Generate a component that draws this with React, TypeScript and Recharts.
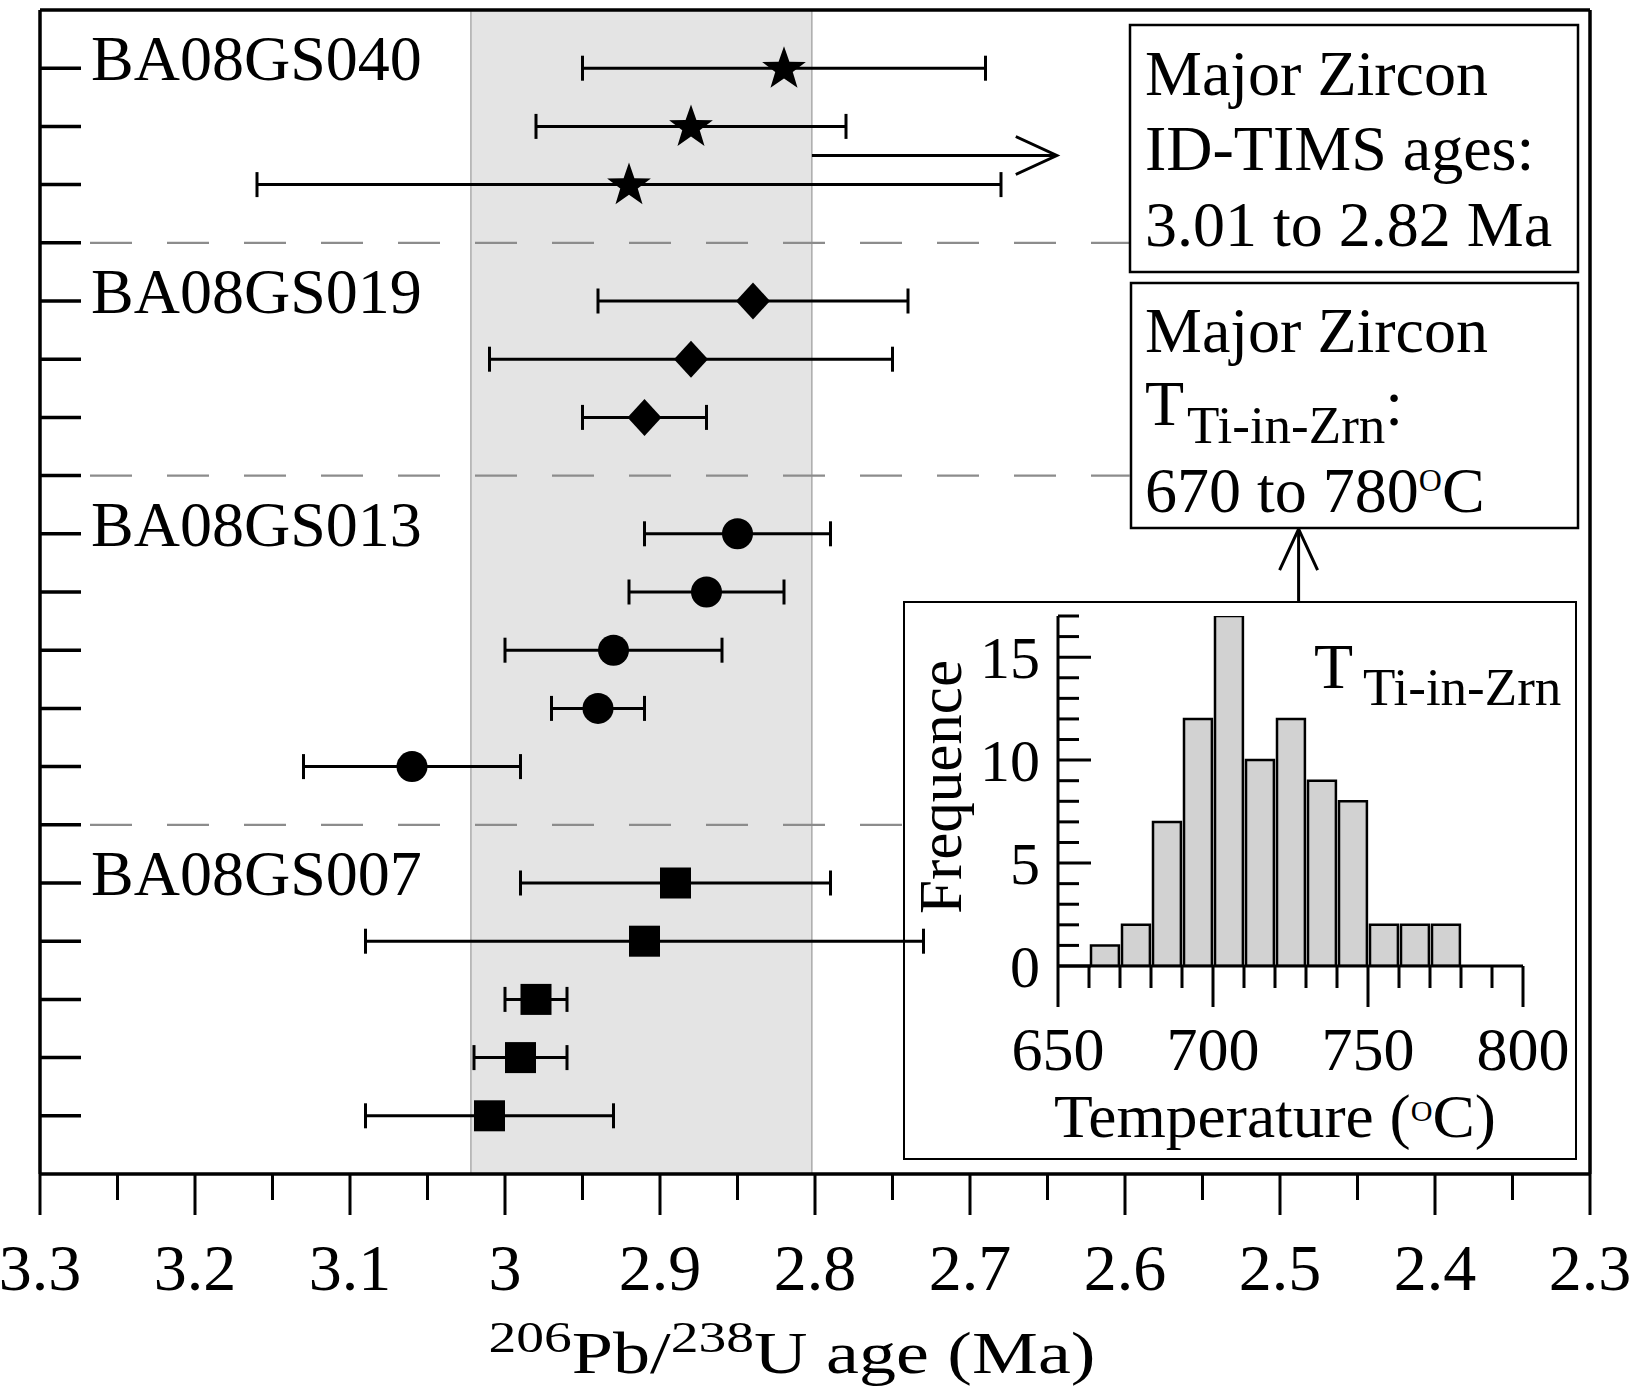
import React from 'react';
import {
  ComposedChart,
  Scatter,
  ErrorBar,
  XAxis,
  YAxis,
  ReferenceLine,
  ReferenceArea,
  BarChart,
  Bar,
} from 'recharts';

const FONT = '"Liberation Serif","Times New Roman",Times,serif';

// ---------- main chart data ----------
const groupNames = ['BA08GS040', 'BA08GS019', 'BA08GS013', 'BA08GS007'];
const groupLabelRows = [19, 15, 11, 5];
const separatorRows = [16, 12, 6];
const separatorEndAges = [2.597, 2.597, 2.743];

const starRows = [19, 18, 17];
const starAges = [2.82, 2.88, 2.92];
const starOlder = [2.95, 2.98, 3.16];
const starYounger = [2.69, 2.78, 2.68];

const diamondRows = [15, 14, 13];
const diamondAges = [2.84, 2.88, 2.91];
const diamondOlder = [2.94, 3.01, 2.95];
const diamondYounger = [2.74, 2.75, 2.87];

const circleRows = [11, 10, 9, 8, 7];
const circleAges = [2.85, 2.87, 2.93, 2.94, 3.06];
const circleOlder = [2.91, 2.92, 3.0, 2.97, 3.13];
const circleYounger = [2.79, 2.82, 2.86, 2.91, 2.99];

const squareRows = [5, 4, 3, 2, 1];
const squareAges = [2.89, 2.91, 2.98, 2.99, 3.01];
const squareOlder = [2.99, 3.09, 3.0, 3.02, 3.09];
const squareYounger = [2.79, 2.73, 2.96, 2.96, 2.93];

const ageTicks = [3.3, 3.25, 3.2, 3.15, 3.1, 3.05, 3.0, 2.95, 2.9, 2.85, 2.8, 2.75, 2.7, 2.65, 2.6, 2.55, 2.5, 2.45, 2.4, 2.35, 2.3];
const ageMajorTicks = [3.3, 3.2, 3.1, 3.0, 2.9, 2.8, 2.7, 2.6, 2.5, 2.4, 2.3];
const ageMajorLabels = ['3.3', '3.2', '3.1', '3', '2.9', '2.8', '2.7', '2.6', '2.5', '2.4', '2.3'];
const rowTicks = [1, 2, 3, 4, 5, 6, 7, 8, 9, 10, 11, 12, 13, 14, 15, 16, 17, 18, 19];

const idTimsBand = [3.022, 2.802];
// annotation arrows: [fromAge, fromRow, toAge, toRow]
const timsArrow = [2.802, 17.5, 2.644, 17.5];
const tempArrow = [2.488, 9.84, 2.488, 11.08];

// ---------- histogram data ----------
const tempBinStarts = [660, 670, 680, 690, 700, 710, 720, 730, 740, 750, 760, 770];
const tempCounts = [1, 2, 7, 12, 17, 10, 12, 9, 8, 2, 2, 2];
const tempBinWidth = 10;
const tempTicks = [650, 660, 670, 680, 690, 700, 710, 720, 730, 740, 750, 760, 770, 780, 790, 800];
const tempMajorTicks = [650, 700, 750, 800];
const freqTicks = [0, 1, 2, 3, 4, 5, 6, 7, 8, 9, 10, 11, 12, 13, 14, 15, 16, 17];
const freqMajorTicks = [0, 5, 10, 15];

const toPoints = (rows: number[], ages: number[], older: number[], younger: number[]) =>
  rows.map((r, i) => ({ row: r, age: ages[i], err: [ages[i] - younger[i], older[i] - ages[i]] }));

const starData = toPoints(starRows, starAges, starOlder, starYounger);
const diamondData = toPoints(diamondRows, diamondAges, diamondOlder, diamondYounger);
const circleData = toPoints(circleRows, circleAges, circleOlder, circleYounger);
const squareData = toPoints(squareRows, squareAges, squareOlder, squareYounger);

const histData = tempBinStarts.map((s, i) => ({ center: s + tempBinWidth / 2, count: tempCounts[i] }));

// ---------- shapes ----------
function starPath(cx: number, cy: number, R: number, r: number) {
  let d = '';
  for (let i = 0; i < 10; i++) {
    const rad = i % 2 === 0 ? R : r;
    const a = -Math.PI / 2 + (i * Math.PI) / 5;
    d += (i === 0 ? 'M' : 'L') + (cx + rad * Math.cos(a)).toFixed(2) + ',' + (cy + rad * Math.sin(a)).toFixed(2);
  }
  return d + 'Z';
}
const StarShape = (p: any) => <path d={starPath(p.cx, p.cy + 1, 23, 9.2)} fill="#000" />;
const DiamondShape = (p: any) => (
  <path d={`M${p.cx},${p.cy - 18.5}L${p.cx + 17},${p.cy}L${p.cx},${p.cy + 18.5}L${p.cx - 17},${p.cy}Z`} fill="#000" />
);
const CircleShape = (p: any) => <ellipse cx={p.cx} cy={p.cy} rx={15.5} ry={15.5} fill="#000" />;
const SquareShape = (p: any) => <rect x={p.cx - 15.5} y={p.cy - 15.5} width={31} height={31} fill="#000" />;

const ArrowShape = (p: any) => {
  const { x1, y1, x2, y2 } = p;
  const ang = Math.atan2(y2 - y1, x2 - x1);
  const L = 41;
  const hw = 19;
  const bx = x2 - L * Math.cos(ang);
  const by = y2 - L * Math.sin(ang);
  const px = -Math.sin(ang) * hw;
  const py = Math.cos(ang) * hw;
  return (
    <g>
      <line x1={x1} y1={y1} x2={x2} y2={y2} stroke="#000" strokeWidth={3} />
      <polyline points={`${bx + px},${by + py} ${x2},${y2} ${bx - px},${by - py}`} fill="none" stroke="#000" strokeWidth={3} />
    </g>
  );
};

// ---------- ticks ----------
const MainXTick = (props: any) => {
  const { x, y, payload } = props;
  const v = payload.value;
  const mi = ageMajorTicks.findIndex((m) => Math.abs(m - v) < 1e-6);
  const major = mi >= 0;
  return (
    <g>
      <line x1={x} y1={y} x2={x} y2={y + (major ? 41 : 26)} stroke="#000" strokeWidth={3} />
      {major && (
        <text x={x} y={y + 116} textAnchor="middle" fontSize={66} fontFamily={FONT} fill="#000">
          {ageMajorLabels[mi]}
        </text>
      )}
    </g>
  );
};

const MainYTick = (props: any) => {
  const { x, y, payload } = props;
  const gi = groupLabelRows.indexOf(payload.value);
  return (
    <g>
      <line x1={x} y1={y} x2={x + 41} y2={y} stroke="#000" strokeWidth={3.5} />
      {gi >= 0 && (
        <text x={x + 51} y={y + 12} fontSize={64} fontFamily={FONT} fill="#000">
          {groupNames[gi]}
        </text>
      )}
    </g>
  );
};

const InsetXTick = (props: any) => {
  const { x, y, payload } = props;
  const major = tempMajorTicks.includes(payload.value);
  return (
    <g>
      <line x1={x} y1={y} x2={x} y2={y + (major ? 41 : 22)} stroke="#000" strokeWidth={3} />
      {major && (
        <text x={x} y={y + 104} textAnchor="middle" fontSize={62} fontFamily={FONT} fill="#000">
          {payload.value}
        </text>
      )}
    </g>
  );
};

const InsetYTick = (props: any) => {
  const { x, y, payload } = props;
  const major = freqMajorTicks.includes(payload.value);
  return (
    <g>
      <line x1={x} y1={y} x2={x + (major ? 33 : 21)} y2={y} stroke="#000" strokeWidth={3} />
      {major && (
        <text x={x - 18} y={y + 21} textAnchor="end" fontSize={60} fontFamily={FONT} fill="#000">
          {payload.value}
        </text>
      )}
    </g>
  );
};

const MainXLabel = () => (
  <text x={792} y={1373} textAnchor="middle" fontSize={60} fontFamily={FONT} fill="#000" textLength={607} lengthAdjust="spacingAndGlyphs">
    <tspan fontSize={45} dy={-21}>206</tspan>
    <tspan dy={21}>Pb/</tspan>
    <tspan fontSize={45} dy={-21}>238</tspan>
    <tspan dy={21}>U age (Ma)</tspan>
  </text>
);

const InsetXLabel = () => (
  <text x={372} y={536} textAnchor="middle" fontSize={61} fontFamily={FONT} fill="#000" textLength={442} lengthAdjust="spacingAndGlyphs">
    <tspan>Temperature (</tspan>
    <tspan fontSize={29} dy={-16}>O</tspan>
    <tspan dy={16}>C)</tspan>
  </text>
);

const InsetYLabel = () => (
  <text x={0} y={0} transform="translate(58,186) rotate(-90)" textAnchor="middle" fontSize={61} fontFamily={FONT} fill="#000">
    Frequence
  </text>
);

export default function App() {
  const ebProps = { dataKey: 'err', direction: 'x' as const, width: 12.5, stroke: '#000', strokeWidth: 3, isAnimationActive: false };
  return (
    <div style={{ position: 'absolute', left: 0, top: 0, width: 1632, height: 1388, background: '#fff', fontFamily: FONT }}>
      <ComposedChart width={1632} height={1388} margin={{ top: 10, right: 42, left: 0, bottom: 0 }}>
        <XAxis
          type="number"
          dataKey="age"
          domain={[2.3, 3.3]}
          reversed
          ticks={ageTicks}
          interval={0}
          height={214}
          tickSize={0}
          tickMargin={0}
          tickLine={false}
          tick={MainXTick}
          axisLine={{ stroke: '#000', strokeWidth: 3.5 }}
          allowDataOverflow
          label={<MainXLabel />}
        />
        <YAxis
          type="number"
          dataKey="row"
          domain={[0, 20]}
          ticks={rowTicks}
          interval={0}
          width={40}
          tickSize={0}
          tickMargin={0}
          tickLine={false}
          tick={MainYTick}
          axisLine={{ stroke: '#000', strokeWidth: 3.5 }}
          allowDataOverflow
        />
        <ReferenceArea x1={idTimsBand[0]} x2={idTimsBand[1]} fill="#e4e4e4" fillOpacity={1} stroke="#9a9a9a" strokeWidth={1.2} />
        {separatorRows.map((r, i) => (
          <ReferenceLine
            key={'sep' + r}
            segment={[{ x: 3.3, y: r }, { x: separatorEndAges[i], y: r }]}
            stroke="#8c8c8c"
            strokeWidth={2.2}
            strokeDasharray="42 35"
            strokeDashoffset={27}
          />
        ))}
        <ReferenceLine y={20} stroke="#000" strokeWidth={3.5} />
        <ReferenceLine x={2.3} stroke="#000" strokeWidth={3.5} />
        <ReferenceLine
          segment={[{ x: timsArrow[0], y: timsArrow[1] }, { x: timsArrow[2], y: timsArrow[3] }]}
          shape={ArrowShape}
        />
        <ReferenceLine
          segment={[{ x: tempArrow[0], y: tempArrow[1] }, { x: tempArrow[2], y: tempArrow[3] }]}
          shape={ArrowShape}
        />
        <Scatter data={starData} shape={StarShape} isAnimationActive={false}>
          <ErrorBar {...ebProps} />
        </Scatter>
        <Scatter data={diamondData} shape={DiamondShape} isAnimationActive={false}>
          <ErrorBar {...ebProps} />
        </Scatter>
        <Scatter data={circleData} shape={CircleShape} isAnimationActive={false}>
          <ErrorBar {...ebProps} />
        </Scatter>
        <Scatter data={squareData} shape={SquareShape} isAnimationActive={false}>
          <ErrorBar {...ebProps} />
        </Scatter>
      </ComposedChart>

      {/* inset histogram */}
      <div style={{ position: 'absolute', left: 903, top: 601, width: 674, height: 559 }}>
        <BarChart width={674} height={559} data={histData} margin={{ top: 15, right: 54, left: 0, bottom: 0 }} barSize={31}>
          <XAxis
            type="number"
            dataKey="center"
            domain={[650, 800]}
            ticks={tempTicks}
            interval={0}
            height={194}
            tickSize={0}
            tickMargin={0}
            tickLine={false}
            tick={InsetXTick}
            axisLine={{ stroke: '#000', strokeWidth: 3 }}
            allowDataOverflow
            label={<InsetXLabel />}
          />
          <YAxis
            type="number"
            domain={[0, 17]}
            ticks={freqTicks}
            interval={0}
            width={155}
            tickSize={0}
            tickMargin={0}
            tickLine={false}
            tick={InsetYTick}
            axisLine={{ stroke: '#000', strokeWidth: 3 }}
            allowDataOverflow
            label={<InsetYLabel />}
          />
          <Bar dataKey="count" fill="#d2d2d2" stroke="#000" strokeWidth={2.5} isAnimationActive={false} />
        </BarChart>
        <div style={{ position: 'absolute', left: 0, top: 0, width: 674, height: 559, border: '2.5px solid #000', boxSizing: 'border-box' }} />
      </div>

      {/* annotation boxes */}
      <svg width={1632} height={1388} style={{ position: 'absolute', left: 0, top: 0, pointerEvents: 'none' }}>
        <rect x={1130} y={25} width={448} height={247} fill="#fff" stroke="#000" strokeWidth={2.5} />
        <text fontFamily={FONT} fontSize={64} fill="#000">
          <tspan x={1145} y={95}>Major Zircon</tspan>
          <tspan x={1145} y={170}>ID-TIMS ages:</tspan>
          <tspan x={1145} y={246}>3.01 to 2.82 Ma</tspan>
        </text>
        <rect x={1131} y={283} width={447} height={245} fill="#fff" stroke="#000" strokeWidth={2.5} />
        <text fontFamily={FONT} fontSize={64} fill="#000">
          <tspan x={1145} y={352}>Major Zircon</tspan>
          <tspan x={1145} y={425}>T</tspan>
          <tspan x={1187} y={443} fontSize={53}>Ti-in-Zrn</tspan>
          <tspan y={425}>:</tspan>
          <tspan x={1145} y={512}>670 to 780</tspan>
          <tspan fontSize={32} dy={-21}>O</tspan>
          <tspan dy={21}>C</tspan>
        </text>
        <text fontFamily={FONT} fill="#000">
          <tspan x={1314} y={688} fontSize={64}>T</tspan>
          <tspan x={1363} y={705} fontSize={53}>Ti-in-Zrn</tspan>
        </text>
      </svg>
    </div>
  );
}
